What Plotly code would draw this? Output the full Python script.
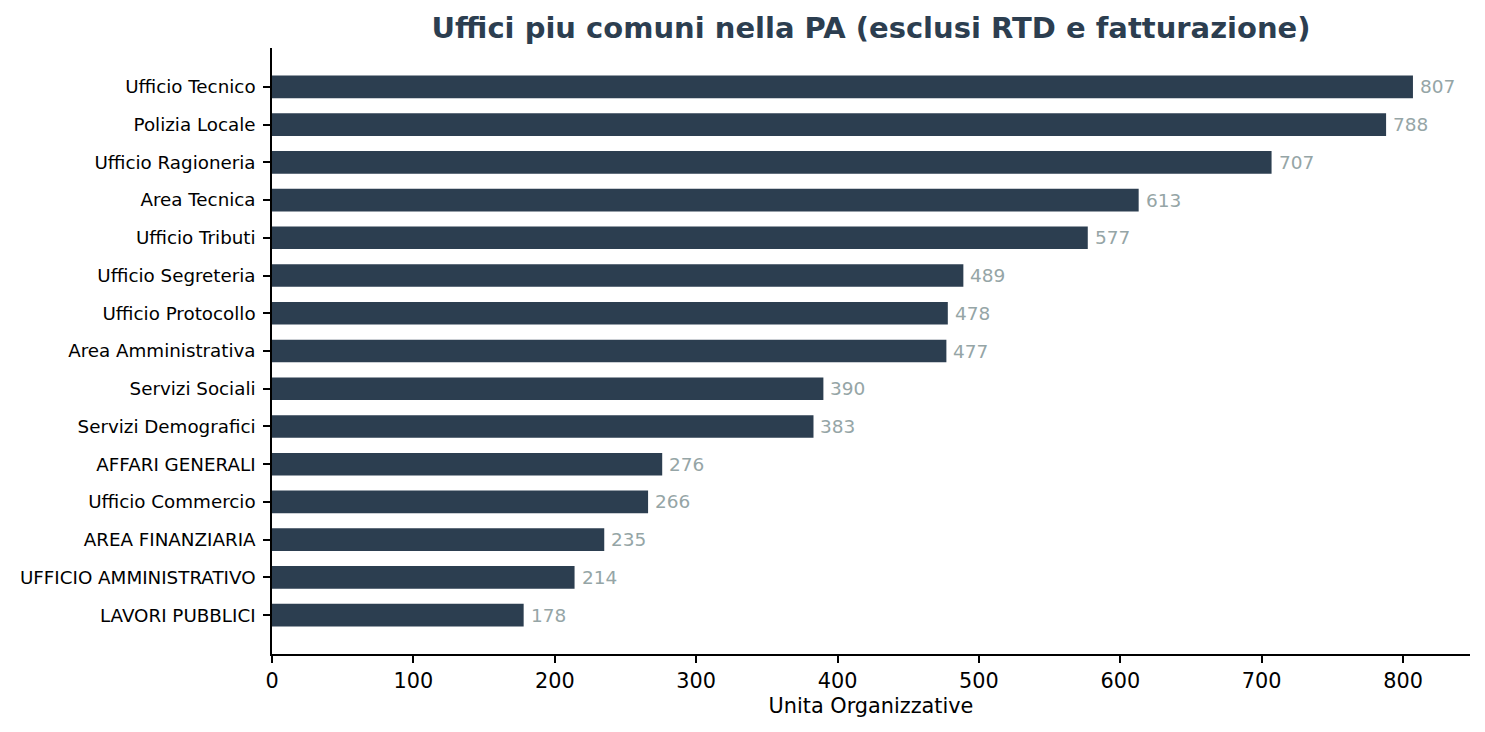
import plotly.graph_objects as go

# Dati
uffici = ["Ufficio Tecnico", "Polizia Locale", "Ufficio Ragioneria", "Area Tecnica",
          "Ufficio Tributi", "Ufficio Segreteria", "Ufficio Protocollo", "Area Amministrativa",
          "Servizi Sociali", "Servizi Demografici", "AFFARI GENERALI", "Ufficio Commercio",
          "AREA FINANZIARIA", "UFFICIO AMMINISTRATIVO", "LAVORI PUBBLICI"]
conteggi = [807, 788, 707, 613, 577, 489, 478, 477, 390, 383, 276, 266, 235, 214, 178]
x_ticks = [0, 100, 200, 300, 400, 500, 600, 700, 800]

fig = go.Figure()
fig.add_trace(go.Bar(y=uffici, x=conteggi, orientation='h', width=0.6,
                     marker=dict(color='#2c3e50', line=dict(width=0))))

# etichette dei valori a destra delle barre
for u, v in zip(uffici, conteggi):
    fig.add_annotation(x=v, y=u, text=str(v), showarrow=False, xanchor='left', yanchor='middle',
                       xshift=5, font=dict(color='#95a5a6', size=18.5, family='DejaVu Sans'))

# la pagina ha un margine di 8px nel body
fig.update_layout(
    width=1477, height=724, plot_bgcolor='white', paper_bgcolor='white',
    margin=dict(l=264, r=15, t=40, b=78), showlegend=False,
    font=dict(family='DejaVu Sans', color='black', size=18.5),
    title=dict(text='<b>Uffici piu comuni nella PA (esclusi RTD e fatturazione)</b>',
               xref='paper', x=0.5, xanchor='center', y=1 - 20 / 724, yanchor='middle',
               font=dict(size=29, color='#2c3e50', family='DejaVu Sans')),
)
fig.update_xaxes(range=[0, 847.35], tickvals=x_ticks, showgrid=False, zeroline=False,
                 showline=True, linecolor='black', linewidth=1.5, ticks='outside', ticklen=7,
                 tickwidth=1.5, tickcolor='black', ticklabelstandoff=0, automargin=False,
                 tickfont=dict(size=20.8),
                 title=dict(text='Unita Organizzative', font=dict(size=20.8), standoff=7))
fig.update_yaxes(range=[15.03, -1.03], autorange=False, showgrid=False, zeroline=False,
                 showline=True, linecolor='black', linewidth=1.5, ticks='outside', ticklen=7,
                 tickwidth=1.5, tickcolor='black', ticklabelstandoff=4, automargin=False,
                 tickfont=dict(size=18.3))

fig.write_html("out.html")
